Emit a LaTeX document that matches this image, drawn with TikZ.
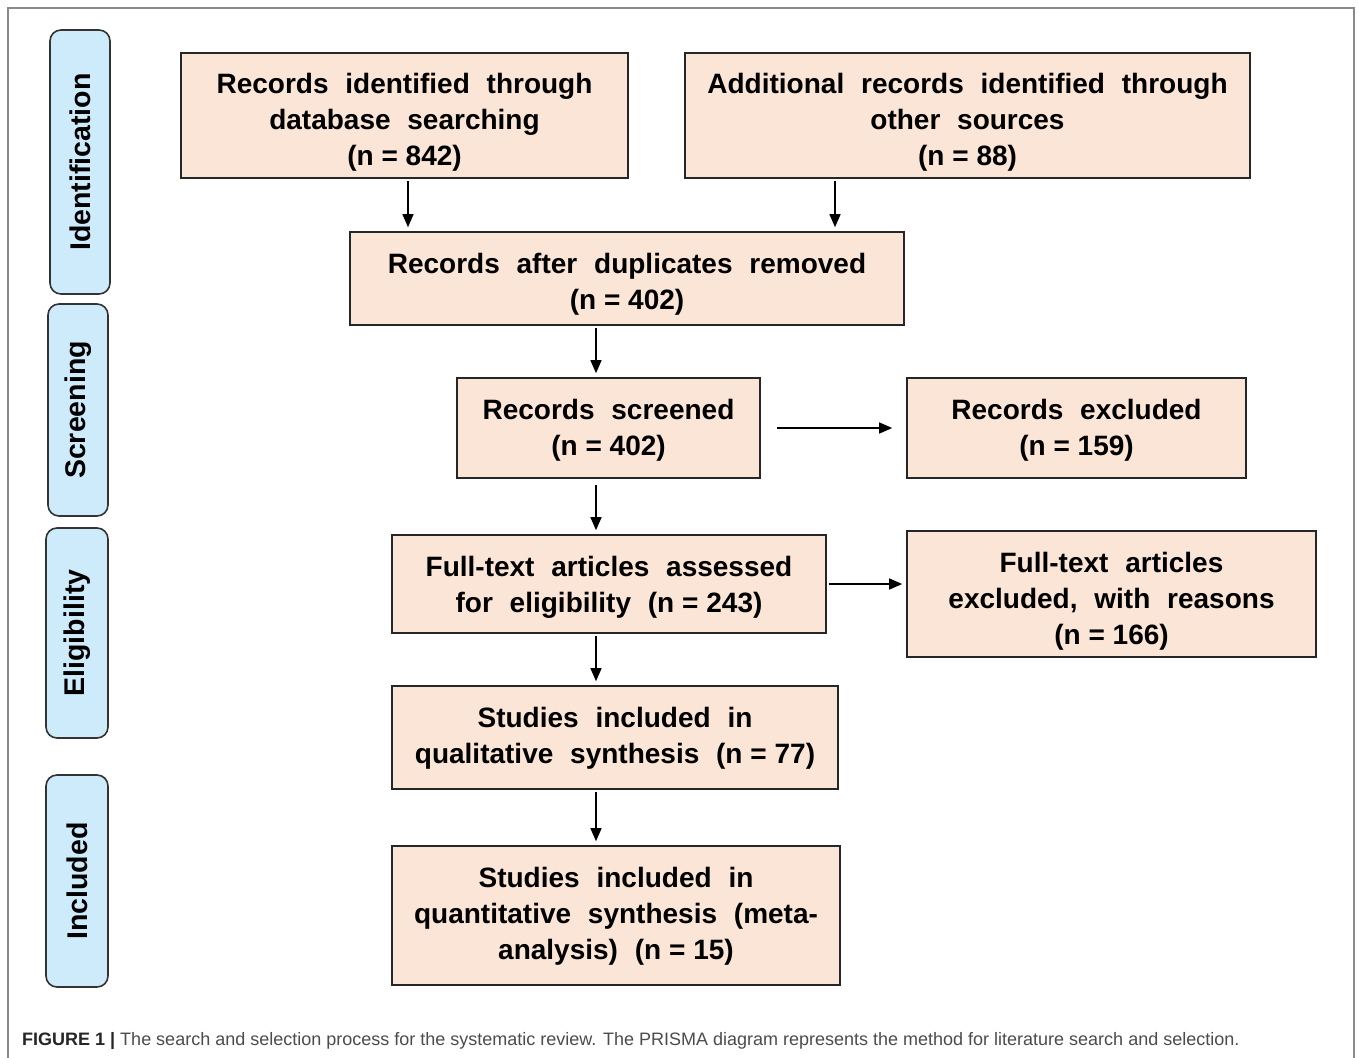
\documentclass[tikz,border=0pt]{standalone}
\usepackage{fontspec}
\setmainfont{Liberation Sans}
\usetikzlibrary{arrows.meta}
\definecolor{peach}{HTML}{FBE5D6}
\definecolor{sideblue}{HTML}{CDEBFB}
\definecolor{framegray}{HTML}{8A8A8A}
\newcommand\flowfont{\bfseries\fontsize{28}{36}\selectfont\spaceskip=0.6em plus 0.1em minus 0.05em}
\newcommand\phasefont{\bfseries\fontsize{28.5}{30}\selectfont}
\newcommand\ns{\hspace{0.28em}}
\newcommand\tup[1]{\rule{0pt}{#1pt}}
\begin{document}
\begin{tikzpicture}[x=1pt,y=-1pt,
  flowbox/.style={draw=black!85, line width=1.6pt, fill=peach, inner sep=0pt, align=center, font=\flowfont},
  phase/.style={draw=black!80, line width=1.6pt, fill=sideblue, rounded corners=11pt, inner sep=0pt, rotate=90, font=\phasefont},
  arr/.style={-{Triangle[length=13pt,width=11pt]}, line width=1.4pt, shorten >=4pt, shorten <=2pt}
]
\useasboundingbox (0,0) rectangle (1358,1058);
\fill[white] (0,0) rectangle (1358,1058);
% outer frame
\draw[framegray, line width=1.5pt] (8,1062) -- (8,8) -- (1354,8) -- (1354,1062);

% phase labels
\node[phase, minimum width=264pt, minimum height=60pt] (pid) at (80,162) {Identification};
\node[phase, minimum width=212pt, minimum height=60pt] (psc) at (78,410) {Screening};
\node[phase, minimum width=210pt, minimum height=62pt] (pel) at (77,633) {Eligibility};
\node[phase, minimum width=212pt, minimum height=62pt] (pin) at (77,881) {Included};

% flow boxes
\node[flowbox, minimum width=447pt, minimum height=125pt] (b1) at (404.5,115.5) {\tup{34}Records identified through\\database searching\\(n\ns=\ns842)};
\node[flowbox, minimum width=565pt, minimum height=125pt] (b2) at (967.5,115.5) {\tup{34}Additional records identified through\\other sources\\(n\ns=\ns88)};
\node[flowbox, minimum width=554pt, minimum height=93pt] (b3) at (627,278.5) {\tup{31}Records after duplicates removed\\(n\ns=\ns402)};
\node[flowbox, minimum width=303pt, minimum height=100pt] (b4) at (608.5,428) {\tup{24}Records screened\\(n\ns=\ns402)};
\node[flowbox, minimum width=339pt, minimum height=100pt] (b5) at (1076.5,428) {\tup{24}Records excluded\\(n\ns=\ns159)};
\node[flowbox, minimum width=434pt, minimum height=98pt] (b6) at (609,584) {\tup{26}Full-text articles assessed\\for eligibility (n\ns=\ns243)};
\node[flowbox, minimum width=409pt, minimum height=126pt] (b7) at (1111.5,594) {\tup{34}Full-text articles\\excluded, with reasons\\(n\ns=\ns166)};
\node[flowbox, minimum width=446pt, minimum height=103pt] (b8) at (615,737.5) {\tup{22}Studies included in\\qualitative synthesis (n\ns=\ns77)};
\node[flowbox, minimum width=448pt, minimum height=139pt] (b9) at (616,915.5) {\tup{22}Studies included in\\quantitative synthesis (meta-\\analysis) (n\ns=\ns15)};

% connectors
\coordinate (colA) at (408,0);
\coordinate (colB) at (835,0);
\coordinate (colC) at (596,0);
\draw[arr] (b1.south -| colA) -- (b3.north -| colA);
\draw[arr] (b2.south -| colB) -- (b3.north -| colB);
\draw[arr] (b3.south -| colC) -- (b4.north -| colC);
\draw[arr, shorten <=6pt] (b4.south -| colC) -- (b6.north -| colC);
\draw[arr] (b6.south -| colC) -- (b8.north -| colC);
\draw[arr] (b8.south -| colC) -- (b9.north -| colC);
\draw[arr, shorten <=16pt, shorten >=14pt] (b4.east) -- (b5.west);
\draw[arr] (b6.east) -- (b6.east -| b7.west);

% caption
\node[anchor=base west, inner sep=0pt, font=\fontsize{18}{21}\selectfont, text=black!70] (cap) at (22,1045)
  {\textcolor{black!85}{\textbf{FIGURE 1 |}} The search and selection process for the systematic review. The PRISMA diagram represents the method for literature search and selection.};
\end{tikzpicture}
\end{document}
